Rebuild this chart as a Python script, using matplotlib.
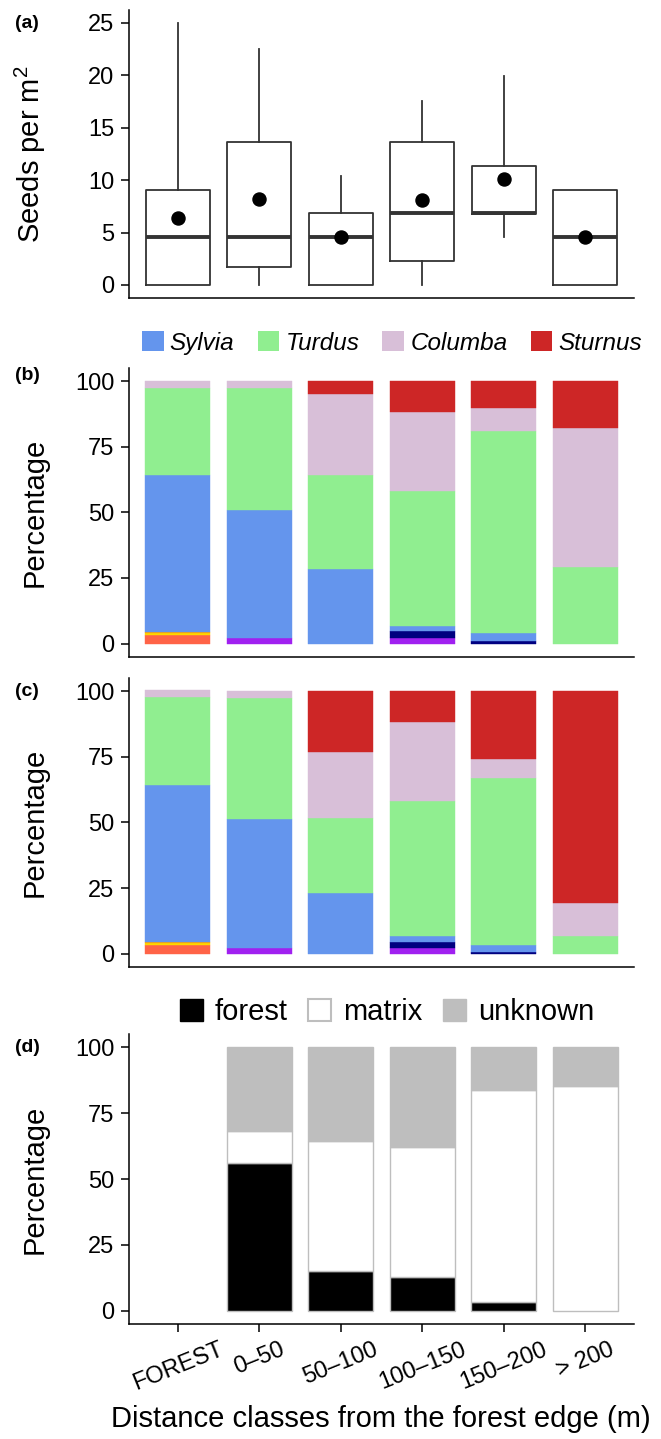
import numpy as np
import matplotlib
matplotlib.use('Agg')
import matplotlib.pyplot as plt
from matplotlib.patches import Patch

classes = ['FOREST', '0–50', '50–100', '100–150', '150–200', '> 200']

# (a) seeds per m2 -- box stats
box_q1 = [0.0, 1.75, 0.0, 2.27, 6.75, 0.0]
box_med = [4.55, 4.55, 4.55, 6.82, 6.82, 4.55]
box_q3 = [9.1, 13.65, 6.82, 13.65, 11.36, 9.1]
whisk_lo = [0.0, 0.0, 0.0, 0.0, 4.55, 0.0]
whisk_hi = [25.0, 22.5, 10.4, 17.5, 19.95, 9.1]
seed_mean = [6.35, 8.2, 4.55, 8.1, 10.1, 4.55]

# (b) percentage per bird species, stacked bottom -> top
b_tomato = [3.4, 0, 0, 0, 0, 0]
b_gold = [0.6, 0, 0, 0, 0, 0]
b_orange = [0.5, 0, 0, 0, 0, 0]
b_purple = [0, 2.3, 0, 2.3, 0, 0]
b_navy = [0, 0, 0, 2.3, 1.1, 0]
b_sylvia = [59.8, 48.5, 28.5, 2.2, 3.1, 0]
b_turdus = [33.2, 46.7, 35.8, 51.3, 76.7, 29.1]
b_columba = [2.5, 2.5, 30.7, 30.1, 8.8, 53.0]
b_sturnus = [0, 0, 5.0, 11.8, 10.3, 17.9]

# (c) same layout
c_tomato = [3.4, 0, 0, 0, 0, 0]
c_gold = [0.6, 0, 0, 0, 0, 0]
c_orange = [0.5, 0, 0, 0, 0, 0]
c_purple = [0, 2.3, 0, 2.3, 0, 0]
c_navy = [0, 0, 0, 2.3, 0.8, 0]
c_sylvia = [59.7, 49.0, 23.2, 2.3, 2.5, 0]
c_turdus = [33.4, 46.0, 28.6, 51.2, 63.7, 6.9]
c_columba = [2.8, 2.7, 25.0, 30.1, 7.1, 12.5]
c_sturnus = [0, 0, 23.2, 11.8, 25.9, 80.6]

# (d) origin of seeds
d_forest = [0, 56.2, 15.2, 12.9, 3.2, 0]
d_matrix = [0, 12.2, 49.4, 49.4, 80.6, 85.3]
d_unknown = [0, 31.6, 35.4, 37.7, 16.2, 14.7]

sp_colors = ['#FF6347', '#FFD700', '#FFA500', '#A020F0', '#000080',
             '#6495ED', '#90EE90', '#D8BFD8', '#CD2626']
legend_sp = ['Sylvia', 'Turdus', 'Columba', 'Sturnus']

plt.rcParams['font.family'] = ['Liberation Sans', 'DejaVu Sans']
plt.rcParams['mathtext.default'] = 'regular'

W, H = 661, 1439
fig = plt.figure(figsize=(W / 100, H / 100), dpi=100)
x = np.arange(1, len(classes) + 1)


def add_ax(top, bottom):
    # axes placed in pixel units, measured from the top of the figure
    return fig.add_axes([129 / W, 1 - bottom / H, 505 / W, (bottom - top) / H])


def style(ax, ylabel, show_x=False):
    for s in ['top', 'right']:
        ax.spines[s].set_visible(False)
    for s in ['left', 'bottom']:
        ax.spines[s].set_linewidth(1.1)
    ax.tick_params(axis='y', length=5.5, width=1.1, pad=5, labelsize=17)
    ax.set_xlim(0.4, 6.6)
    ax.set_xticks(x)
    if show_x:
        ax.set_xticklabels(classes, rotation=22, ha='center', fontsize=17)
        ax.tick_params(axis='x', length=5.5, width=1.1, pad=5)
    else:
        ax.tick_params(axis='x', length=0, labelbottom=False)
    ax.set_ylabel(ylabel, fontsize=21)
    ax.yaxis.set_label_coords(-0.16, 0.5)


def stack(ax, layers, colors, edge=None):
    base = np.zeros(len(classes))
    for vals, col in zip(layers, colors):
        vals = np.asarray(vals, float)
        keep = vals > 0
        if edge is None:
            ax.bar(x[keep], vals[keep], width=0.8, bottom=base[keep],
                   color=col, edgecolor=col, linewidth=0.3)
        else:
            ax.bar(x[keep], vals[keep], width=0.8, bottom=base[keep],
                   color=col, edgecolor=edge, linewidth=1.0)
        base += vals


# panel (a)
ax1 = add_ax(9.6, 298.1)
stats = [dict(med=m, q1=q1, q3=q3, whislo=lo, whishi=hi, mean=mu, fliers=[])
         for m, q1, q3, lo, hi, mu in zip(box_med, box_q1, box_q3, whisk_lo, whisk_hi, seed_mean)]
ax1.bxp(stats, positions=x, widths=0.79, showcaps=False, showfliers=False,
        showmeans=True, manage_ticks=False,
        boxprops=dict(color='#333333', linewidth=1.3),
        whiskerprops=dict(color='#333333', linewidth=1.3),
        medianprops=dict(color='#333333', linewidth=2.8, solid_capstyle='butt'),
        meanprops=dict(marker='o', markerfacecolor='black', markeredgecolor='black', markersize=9.4))
ax1.set_ylim(-1.25, 26.25)
ax1.set_yticks([0, 5, 10, 15, 20, 25])
style(ax1, 'Seeds per m$^2$')

# panel (b)
ax2 = add_ax(367.9, 656.7)
stack(ax2, [b_tomato, b_gold, b_orange, b_purple, b_navy,
            b_sylvia, b_turdus, b_columba, b_sturnus], sp_colors)
ax2.set_ylim(-5, 105)
ax2.set_yticks([0, 25, 50, 75, 100])
style(ax2, 'Percentage')

# panel (c)
ax3 = add_ax(677.9, 966.8)
stack(ax3, [c_tomato, c_gold, c_orange, c_purple, c_navy,
            c_sylvia, c_turdus, c_columba, c_sturnus], sp_colors)
ax3.set_ylim(-5, 105)
ax3.set_yticks([0, 25, 50, 75, 100])
style(ax3, 'Percentage')

# panel (d)
ax4 = add_ax(1034.1, 1323.9)
stack(ax4, [d_forest, d_matrix, d_unknown], ['black', 'white', '#BEBEBE'], edge='#BEBEBE')
ax4.set_ylim(-5, 105)
ax4.set_yticks([0, 25, 50, 75, 100])
style(ax4, 'Percentage', show_x=True)

# legends
sp_handles = [Patch(facecolor=c, edgecolor='none') for c in sp_colors[5:]]
fig.legend(sp_handles, legend_sp, loc='center', bbox_to_anchor=(392 / W, 1 - 343 / H),
           ncol=4, frameon=False, prop=dict(style='italic', size=17.5),
           handlelength=0.9, handleheight=0.9, handletextpad=0.25,
           columnspacing=0.95, borderpad=0, borderaxespad=0)

src_handles = [Patch(facecolor='black', edgecolor='black'),
               Patch(facecolor='white', edgecolor='#BEBEBE', linewidth=1.5),
               Patch(facecolor='#BEBEBE', edgecolor='#BEBEBE')]
fig.legend(src_handles, ['forest', 'matrix', 'unknown'], loc='center',
           bbox_to_anchor=(387 / W, 1 - 1012 / H), ncol=3, frameon=False,
           prop=dict(size=21), handlelength=0.79, handleheight=0.76,
           handletextpad=0.4, columnspacing=0.72, borderpad=0, borderaxespad=0)

# panel tags and shared x title
for tag, ypx in [('(a)', 24), ('(b)', 376), ('(c)', 692), ('(d)', 1047)]:
    fig.text(15 / W, 1 - ypx / H, tag, fontsize=14, fontweight='bold', va='center', ha='left')
fig.text(381 / W, 1 - 1427 / H, 'Distance classes from the forest edge (m)',
         ha='center', va='baseline', fontsize=21)

fig.savefig('out.png', dpi=100)
